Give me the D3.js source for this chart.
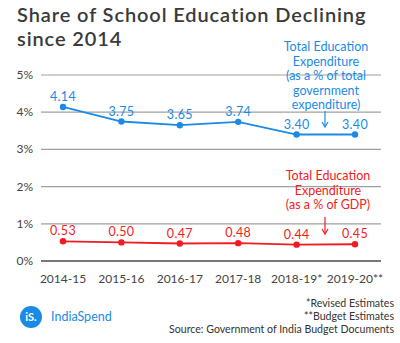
<html>
<head>
<style>
  body { margin: 0; background: #fff; }
  svg { font-family: Lato, "Open Sans", sans-serif; }
  .axis text { fill: #444; font-size: 12px; }
</style>
</head>
<body>
<svg id="chart" width="400" height="343"></svg>
<script src="https://d3js.org/d3.v7.min.js"></script>
<script>
var years = ["2014-15", "2015-16", "2016-17", "2017-18", "2018-19*", "2019-20**"];
var shareOfSpending = [4.14, 3.75, 3.65, 3.74, 3.40, 3.40];
var shareOfGdp = [0.53, 0.50, 0.47, 0.48, 0.44, 0.45];
var yTicks = [0, 1, 2, 3, 4, 5];

var blue = "#1b8ae6";
var red = "#f21b23";

var svg = d3.select("#chart");

var x = d3.scalePoint().domain(years).range([63, 355]);
var y = d3.scaleLinear().domain([0, 5]).range([261, 75]);

// title
svg.append("text").attr("x", 17).attr("y", 22)
  .style("font-size", "20px").style("font-weight", 600).style("fill", "#3a3a3a")
  .style("letter-spacing", "0.9px")
  .text("Share of School Education Declining");
svg.append("text").attr("x", 17).attr("y", 46)
  .style("font-size", "20px").style("font-weight", 600).style("fill", "#3a3a3a")
  .style("letter-spacing", "0.9px")
  .text("since 2014");

// grid lines + y labels
var grid = svg.append("g");
grid.selectAll("line").data(yTicks).enter().append("line")
  .attr("x1", 41).attr("x2", 381)
  .attr("y1", function(d) { return y(d); })
  .attr("y2", function(d) { return y(d); })
  .style("stroke", function(d) { return d === 0 ? "#777" : "#a0a0a0"; })
  .style("stroke-width", function(d) { return d === 0 ? 2 : 1.2; });

var axis = svg.append("g").attr("class", "axis");
axis.selectAll(".ylab").data(yTicks).enter().append("text")
  .attr("class", "ylab")
  .attr("x", 33).attr("y", function(d) { return y(d) + 4; })
  .attr("text-anchor", "end")
  .text(function(d) { return d + "%"; });

axis.selectAll(".xlab").data(years).enter().append("text")
  .attr("class", "xlab")
  .attr("x", function(d) { return x(d); }).attr("y", 283)
  .attr("text-anchor", "middle")
  .text(function(d) { return d; });

function drawSeries(values, color) {
  var pts = years.map(function(yr, i) { return [x(yr), y(values[i])]; });
  var line = d3.line();
  var g = svg.append("g");
  g.append("path").attr("d", line(pts))
    .style("fill", "none").style("stroke", color).style("stroke-width", 1.8);
  g.selectAll("circle").data(pts).enter().append("circle")
    .attr("cx", function(d) { return d[0]; })
    .attr("cy", function(d) { return d[1]; })
    .attr("r", 3.2).style("fill", color);
  g.selectAll(".val").data(values).enter().append("text")
    .attr("x", function(d, i) { return x(years[i]); })
    .attr("y", function(d) { return y(d) - 6; })
    .attr("text-anchor", "middle")
    .style("font-size", "12.5px").style("fill", color)
    .style("letter-spacing", "0.3px")
    .text(function(d) { return d.toFixed(2); });
}
drawSeries(shareOfSpending, blue);
drawSeries(shareOfGdp, red);

// annotations
function note(lines, cx, y0, color, arrowTop, arrowBottom) {
  var t = svg.append("text").attr("text-anchor", "middle")
    .style("font-size", "12.5px").style("fill", color);
  lines.forEach(function(l, i) {
    t.append("tspan").attr("x", cx).attr("y", y0 + i * 14.5).text(l);
  });
  svg.append("line").attr("x1", 325).attr("x2", 325)
    .attr("y1", arrowTop).attr("y2", arrowBottom - 1)
    .style("stroke", color).style("stroke-width", 1.2);
  svg.append("path")
    .attr("d", "M322," + (arrowBottom - 5) + "L325," + arrowBottom + "L328," + (arrowBottom - 5))
    .style("fill", "none").style("stroke", color).style("stroke-width", 1.2);
}
note(["Total Education", "Expenditure", "(as a % of total", "government", "expenditure)"],
  326, 51, blue, 111, 127);
note(["Total Education", "Expenditure", "(as a % of GDP)"], 328, 180, red, 217, 234);

// logo
svg.append("circle").attr("cx", 31).attr("cy", 317).attr("r", 11).style("fill", blue);
svg.append("text").attr("x", 31).attr("y", 321).attr("text-anchor", "middle")
  .style("font-size", "11px").style("font-weight", 700).style("fill", "#fff").text("iS.");
svg.append("text").attr("x", 51).attr("y", 321)
  .style("font-size", "12.5px").style("fill", blue).text("IndiaSpend");

// footer notes
var notes = ["*Revised Estimates", "**Budget Estimates", "Source: Government of India Budget Documents"];
svg.selectAll(".foot").data(notes).enter().append("text")
  .attr("x", 394).attr("y", function(d, i) { return 307 + i * 13; })
  .attr("text-anchor", "end")
  .style("font-size", "10.6px").style("fill", "#333")
  .text(function(d) { return d; });
</script>
</body>
</html>
